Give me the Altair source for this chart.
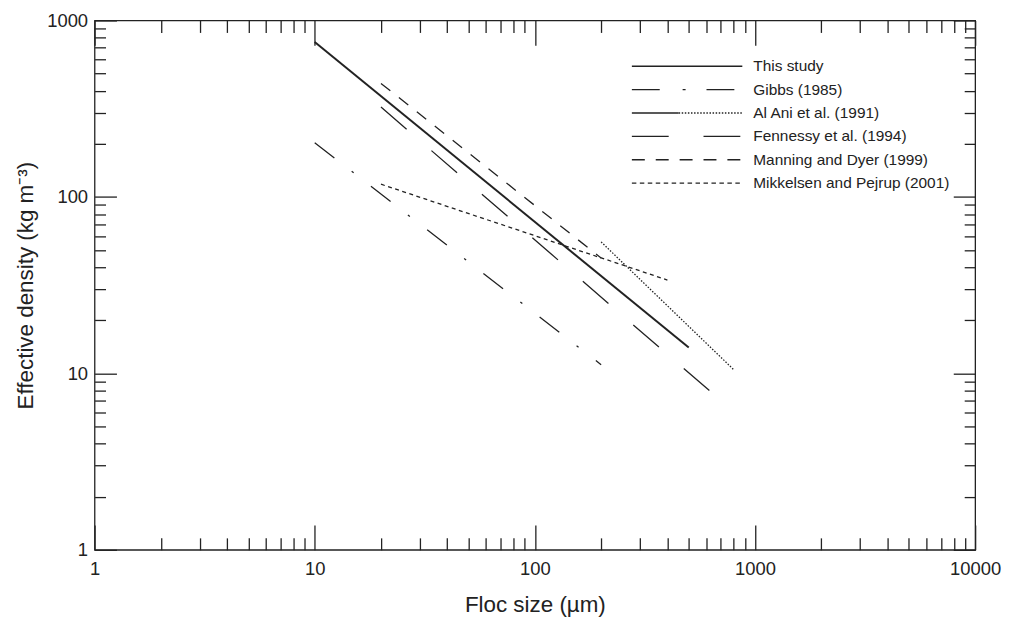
import altair as alt
import pandas as pd

# ---------------- data ----------------
series = ["This study", "Gibbs (1985)", "Al Ani et al. (1991)",
          "Fennessy et al. (1994)", "Manning and Dyer (1999)",
          "Mikkelsen and Pejrup (2001)"]
x_start = [10, 10, 200, 20, 20, 20]
y_start = [755, 203, 55.6, 323, 440, 118]
x_end = [500, 200, 800, 650, 200, 400]
y_end = [14, 11.2, 10.5, 7.6, 45, 33.8]

x_major = [1, 10, 100, 1000, 10000]
y_major = [1, 10, 100, 1000]
x_ticks = [m * k for m in [1, 10, 100, 1000] for k in range(1, 10)] + [10000]
y_ticks = [m * k for m in [1, 10, 100] for k in range(1, 10)] + [1000]

x_title = "Floc size (µm)"
y_title = "Effective density (kg m⁻³)"

# ---------------- styles ----------------
W, H = 885, 532
FONT = "Liberation Sans"
INK = "#222222"
line_dash = {
    "This study": None,
    "Gibbs (1985)": [25, 22, 2.5, 22],
    "Al Ani et al. (1991)": [1.5, 1.6],
    "Fennessy et al. (1994)": [34, 33],
    "Manning and Dyer (1999)": [12, 11],
    "Mikkelsen and Pejrup (2001)": [4, 3.5],
}
legend_dash = {
    "This study": None,
    "Gibbs (1985)": [28, 23, 3, 21],
    "Al Ani et al. (1991)": [1.5, 1.6],
    "Fennessy et al. (1994)": [37, 35],
    "Manning and Dyer (1999)": [13, 11],
    "Mikkelsen and Pejrup (2001)": [4.5, 3.5],
}
line_width = {"This study": 2.0}

xs = alt.Scale(type="log", domain=[1, 10000], nice=False)
ys = alt.Scale(type="log", domain=[1, 1000], nice=False)

major_x_test = "indexof([1,10,100,1000,10000], datum.value) >= 0"
major_y_test = "indexof([1,10,100,1000], datum.value) >= 0"

x_label_axis = alt.Axis(
    values=x_major, format="d", orient="bottom", ticks=False, tickSize=0,
    domain=False, grid=False, labelPadding=10, labelFontSize=18.5,
    labelFont=FONT, labelColor=INK, labelFlush=False, labelOverlap=False,
    title=x_title, titleFont=FONT, titleFontSize=22.5, titleFontWeight="normal",
    titleColor=INK, titleX=W / 2, titleY=62, titleBaseline="alphabetic",
    titleAlign="center")

y_label_axis = alt.Axis(
    values=y_major, format="d", orient="left", ticks=False, tickSize=0,
    domain=False, grid=False, labelPadding=7, labelFontSize=18.5,
    labelFont=FONT, labelColor=INK, labelFlush=False, labelOverlap=False,
    title=y_title, titleFont=FONT, titleFontSize=22.5, titleFontWeight="normal",
    titleColor=INK, titleAngle=270, titleX=-62, titleY=H / 2,
    titleBaseline="alphabetic", titleAlign="center")


def x_tick_axis(orient):
    return alt.Axis(
        values=x_ticks, orient=orient, offset=-H, labels=False, domain=False,
        grid=False, ticks=True, tickColor=INK, tickWidth=1.3,
        tickSize={"condition": {"test": major_x_test, "value": 25}, "value": 12},
        title=None)


def y_tick_axis(orient):
    return alt.Axis(
        values=y_ticks, orient=orient, offset=-W, labels=False, domain=False,
        grid=False, ticks=True, tickColor=INK, tickWidth=1.3,
        tickSize={"condition": {"test": major_y_test, "value": 22}, "value": 11},
        title=None)


axes_for = {
    0: (x_label_axis, y_label_axis),
    1: (x_tick_axis("top"), y_tick_axis("right")),
    2: (x_tick_axis("bottom"), y_tick_axis("left")),
}

layers = []
for i, name in enumerate(series):
    df = pd.DataFrame({"x": [x_start[i], x_end[i]], "y": [y_start[i], y_end[i]],
                       "series": [name, name]})
    kw = dict(color=INK, strokeWidth=line_width.get(name, 1.3), clip=True)
    if line_dash[name] is not None:
        kw["strokeDash"] = line_dash[name]
    xa, ya = axes_for.get(i, (None, None))
    layers.append(
        alt.Chart(df).mark_line(**kw).encode(
            x=alt.X("x:Q", scale=xs, axis=xa),
            y=alt.Y("y:Q", scale=ys, axis=ya),
        )
    )

# ---------------- legend (drawn in the plot area) ----------------
LEG_X0, LEG_X1, LEG_SPLIT, LEG_TX, LEG_Y0, LEG_DY = 540, 651, 587, 662, 46, 23.5
for i, name in enumerate(series):
    ly = LEG_Y0 + i * LEG_DY
    ldf = pd.DataFrame({"label": [name]})
    if name == "Al Ani et al. (1991)":
        layers.append(alt.Chart(ldf).mark_rule(color=INK, strokeWidth=1.3).encode(
            x=alt.value(LEG_X0), x2=alt.value(LEG_SPLIT), y=alt.value(ly)))
        layers.append(alt.Chart(ldf).mark_rule(color=INK, strokeWidth=1.3,
                                               strokeDash=legend_dash[name]).encode(
            x=alt.value(LEG_SPLIT), x2=alt.value(LEG_X1), y=alt.value(ly)))
    else:
        kw = dict(color=INK, strokeWidth=1.3)
        if legend_dash[name] is not None:
            kw["strokeDash"] = legend_dash[name]
        layers.append(alt.Chart(ldf).mark_rule(**kw).encode(
            x=alt.value(LEG_X0), x2=alt.value(LEG_X1), y=alt.value(ly)))
    layers.append(alt.Chart(ldf).mark_text(align="left", baseline="middle", font=FONT,
                                           fontSize=15.5, color=INK).encode(
        x=alt.value(LEG_TX), y=alt.value(ly), text="label:N"))

chart = (
    alt.layer(*layers)
    .resolve_axis(x="independent", y="independent")
    .properties(width=W, height=H,
                autosize=alt.AutoSizeParams(type="none"),
                padding={"left": 87, "top": 11, "right": 30, "bottom": 68},
                background="white")
    .configure_view(stroke=INK, strokeWidth=1.3)
)

chart.save("out.html", embed_options={"renderer": "svg", "actions": False})
